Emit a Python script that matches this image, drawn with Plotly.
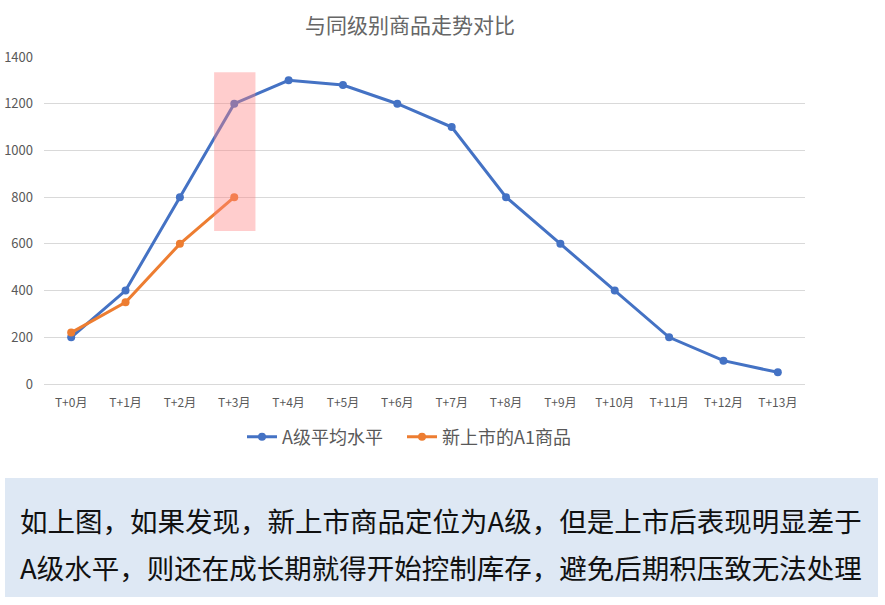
import plotly.graph_objects as go

categories = [f"T+{i}月" for i in range(14)]
avg_a = [200, 400, 800, 1200, 1300, 1280, 1200, 1100, 800, 600, 400, 200, 100, 50]
new_a1 = [220, 350, 600, 800]
title_text = "与同级别商品走势对比"
name_avg = "A级平均水平"
name_new = "新上市的A1商品"
note_lines = [
    "如上图，如果发现，新上市商品定位为A级，但是上市后表现明显差于",
    "A级水平，则还在成长期就得开始控制库存，避免后期积压致无法处理",
]
highlight_x = [2.63, 3.39]
highlight_y = [655, 1335]

FONT = "Noto Sans CJK SC, Microsoft YaHei, sans-serif"
W, H = 885, 605
L, R, T, B = 44, 80, 57, 221
pw, ph = W - L - R, H - T - B


def px_x(x):
    return (x - L) / pw


def px_y(y):
    return (H - B - y) / ph


fig = go.Figure()
fig.add_trace(go.Scatter(
    x=list(range(len(avg_a))), y=avg_a, name=name_avg, mode="lines+markers",
    line=dict(color="#4472C4", width=3), marker=dict(size=8, color="#4472C4"),
    legend="legend",
))
fig.add_trace(go.Scatter(
    x=list(range(len(new_a1))), y=new_a1, name=name_new, mode="lines+markers",
    line=dict(color="#ED7D31", width=3), marker=dict(size=8, color="#ED7D31"),
    legend="legend2",
))

fig.add_shape(type="rect", xref="x", yref="y",
              x0=highlight_x[0], x1=highlight_x[1], y0=highlight_y[0], y1=highlight_y[1],
              fillcolor="rgba(255,130,130,0.4)", line=dict(width=0), layer="above")

# note box
fig.add_shape(type="rect", xref="paper", yref="paper",
              x0=px_x(5), x1=px_x(878), y0=px_y(597), y1=px_y(478),
              fillcolor="#DEE8F4", line=dict(width=0), layer="below")
for i, (line, ypx) in enumerate(zip(note_lines, [520, 567])):
    fig.add_annotation(text=line, xref="paper", yref="paper",
                       x=px_x(18), y=px_y(ypx), xanchor="left", yanchor="middle",
                       showarrow=False, font=dict(size=27.5, color="#111111", family=FONT))

legend_common = dict(orientation="h", xref="container", yref="container",
                     xanchor="left", y=1 - 437 / H, yanchor="middle",
                     font=dict(size=18, color="#595959", family=FONT),
                     itemwidth=30, bgcolor="rgba(0,0,0,0)")

fig.update_layout(
    width=W, height=H,
    margin=dict(l=L, r=R, t=T, b=B, autoexpand=False),
    paper_bgcolor="white", plot_bgcolor="white",
    font=dict(family=FONT, color="#595959"),
    title=dict(text=title_text, x=410 / W, xanchor="center", xref="container",
               y=1 - 26 / H, yanchor="middle", yref="container",
               font=dict(size=21, color="#666666", family=FONT)),
    legend=dict(x=242 / W, **legend_common),
    legend2=dict(x=402 / W, **legend_common),
    showlegend=True,
)
fig.update_xaxes(
    tickmode="array", tickvals=list(range(len(categories))), ticktext=categories,
    range=[-0.5, 13.5], showgrid=False, showline=True, linecolor="#D9D9D9",
    linewidth=1, ticks="", tickfont=dict(size=12, color="#595959"),
    ticklabelstandoff=8, zeroline=False, automargin=False,
)
fig.update_yaxes(
    range=[0, 1400], dtick=200, showgrid=True, gridcolor="#D9D9D9", gridwidth=1,
    zeroline=False, showline=False, ticks="", tickfont=dict(size=13, color="#595959"),
    ticklabelstandoff=10, automargin=False,
)

fig.write_html("out.html", config={"displayModeBar": False},
               post_script="document.body.style.margin='0';")
